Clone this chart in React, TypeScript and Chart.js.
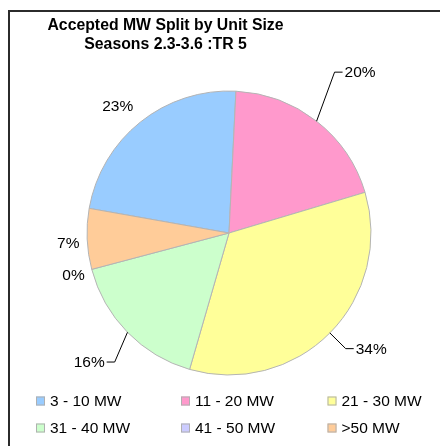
import React, { useEffect, useRef } from "react";
import { Chart, registerables } from "chart.js";

Chart.register(...registerables);

const TITLE_LINES = ["Accepted MW Split by Unit Size", "Seasons 2.3-3.6 :TR 5"];
const CATEGORIES = ["3 - 10 MW", "11 - 20 MW", "21 - 30 MW", "31 - 40 MW", "41 - 50 MW", ">50 MW"];
const SHARES = [23.0, 19.6, 34.1, 16.4, 0, 6.9];
const COLORS = ["#99CCFF", "#FF99CC", "#FFFF99", "#CCFFCC", "#CCCCFF", "#FFCC99"];

// label placement relative to each slice's mid-angle (layout only)
const LABEL_LAYOUT = [
  { dist: 169, delta: -2.6, leader: "" },
  { dist: 192.4, delta: -4.8, leader: "right" },
  { dist: 164.3, delta: 0, leader: "right" },
  { dist: 172.4, delta: -4.1, leader: "left" },
  { dist: 160.8, delta: 0, leader: "" },
  { dist: 161, delta: -0.8, leader: "" },
];

const FONT = '"Liberation Sans", Arial, Helvetica, sans-serif';

const decorPlugin = {
  id: "decor",
  afterDraw(chart: any) {
    const ctx = chart.ctx as CanvasRenderingContext2D;
    ctx.save();
    // frame (right / bottom edges fall outside the picture)
    ctx.strokeStyle = "#2b2b2b";
    ctx.lineWidth = 2;
    ctx.strokeRect(9, 11, 600, 600);
    // title
    ctx.fillStyle = "#000";
    ctx.font = `bold 15.8px ${FONT}`;
    ctx.textAlign = "center";
    ctx.textBaseline = "middle";
    TITLE_LINES.forEach((t, i) => ctx.fillText(t, 165.5, 25.5 + i * 19));

    // data labels
    const meta = chart.getDatasetMeta(0);
    const total = SHARES.reduce((a, b) => a + b, 0);
    ctx.font = `15.5px ${FONT}`;
    ctx.strokeStyle = "#000";
    ctx.lineWidth = 1;
    meta.data.forEach((arc: any, i: number) => {
      const { x, y, startAngle, endAngle, outerRadius } = arc.getProps(
        ["x", "y", "startAngle", "endAngle", "outerRadius"],
        true
      );
      const mid = (startAngle + endAngle) / 2;
      const lay = LABEL_LAYOUT[i];
      const a = mid + (lay.delta * Math.PI) / 180;
      const lx = x + Math.cos(a) * lay.dist;
      const ly = y + Math.sin(a) * lay.dist;
      const txt = Math.round((SHARES[i] / total) * 100) + "%";
      if (lay.leader) {
        const ex = x + Math.cos(mid) * outerRadius;
        const ey = y + Math.sin(mid) * outerRadius;
        const dir = lay.leader === "right" ? 1 : -1;
        ctx.beginPath();
        ctx.moveTo(ex, ey);
        ctx.lineTo(lx, ly);
        ctx.lineTo(lx + dir * 8, ly);
        ctx.stroke();
        ctx.textAlign = dir > 0 ? "left" : "right";
        ctx.fillText(txt, lx + dir * 10, ly + 1);
      } else {
        ctx.textAlign = "center";
        ctx.fillText(txt, lx, ly + 1.3);
      }
    });

    // legend
    const colX = [36, 181, 327.5];
    const rowY = [401, 428];
    ctx.textAlign = "left";
    ctx.textBaseline = "middle";
    CATEGORIES.forEach((c, i) => {
      const cx = colX[i % 3];
      const cy = rowY[Math.floor(i / 3)];
      ctx.fillStyle = COLORS[i];
      ctx.fillRect(cx, cy - 4.5, 9, 9);
      ctx.strokeStyle = "#b0b0b0";
      ctx.strokeRect(cx + 0.5, cy - 4, 8, 8);
      ctx.fillStyle = "#000";
      ctx.fillText(c, cx + 14, cy + 1);
    });
    ctx.restore();
  },
};

export default function App() {
  const ref = useRef<HTMLCanvasElement | null>(null);
  useEffect(() => {
    if (!ref.current) return;
    const chart = new Chart(ref.current, {
      type: "pie",
      data: {
        labels: CATEGORIES,
        datasets: [
          {
            data: SHARES,
            backgroundColor: COLORS,
            borderColor: "#b4b4b4",
            borderWidth: 1,
          },
        ],
      },
      options: {
        responsive: false,
        animation: false,
        rotation: 280,
        layout: { padding: { left: 86.5, right: 68.5, top: 90.5, bottom: 70.5 } },
        plugins: {
          legend: { display: false },
          title: { display: false },
          tooltip: { enabled: false },
        },
      },
      plugins: [decorPlugin],
    } as any);
    return () => chart.destroy();
  }, []);
  return (
    <div style={{ position: "absolute", left: 0, top: 0, width: 440, height: 446, overflow: "hidden", background: "#fff" }}>
      <canvas ref={ref} width={440} height={446} style={{ width: 440, height: 446, display: "block" }} />
    </div>
  );
}
